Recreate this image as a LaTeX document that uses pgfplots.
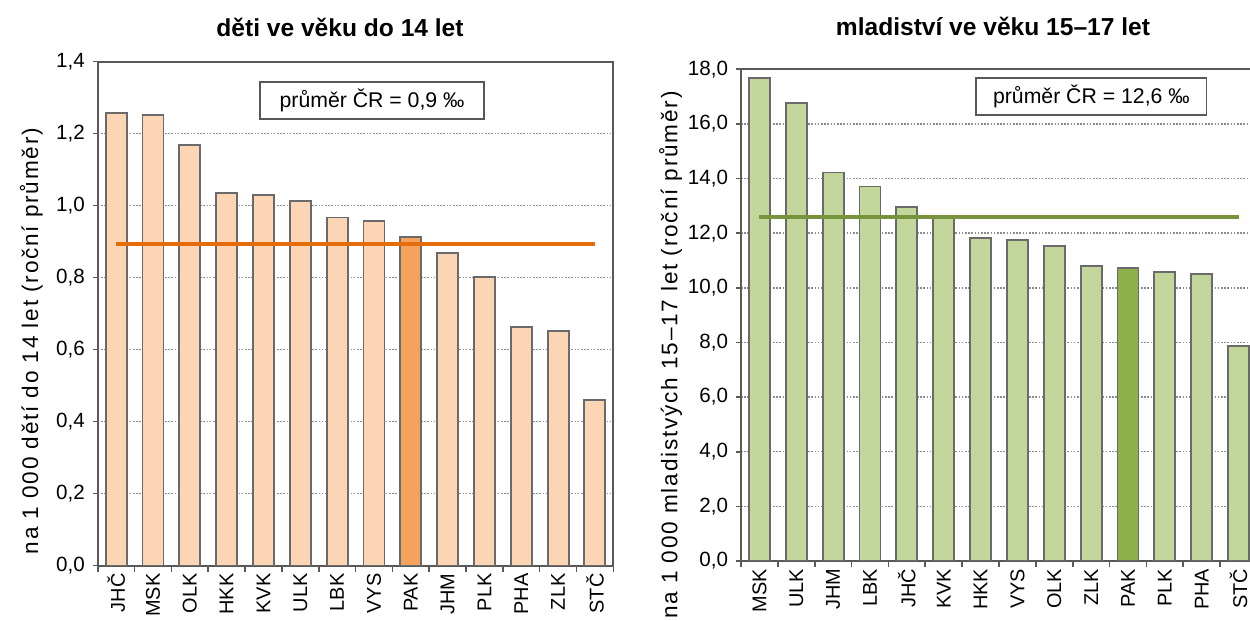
\documentclass[border=0pt]{standalone}
\usepackage{fontspec}
\setmainfont{Liberation Sans}
\newfontfamily\spacedfont[LetterSpace=8]{Liberation Sans}
\usepackage{pgfplots}
\pgfplotsset{compat=1.18}

\definecolor{peach}{HTML}{FCD5B5}
\definecolor{peachdark}{HTML}{F5A35C}
\definecolor{orangeline}{HTML}{E46C0A}
\definecolor{greenlight}{HTML}{C3D69B}
\definecolor{greendark}{HTML}{8DB04B}
\definecolor{greenline}{HTML}{77933C}
\definecolor{axisgray}{HTML}{595959}
\definecolor{bargray}{HTML}{6A6A6A}
\definecolor{gridgray}{HTML}{8C8C8C}

\pgfplotsset{
  common/.style={
    scale only axis,
    ybar, bar shift=0pt, bar width=15.75bp,
    xmin=-0.5, xmax=13.5,
    xtick={0,...,13},
    minor xtick={-0.5,0.5,...,13.5},
    major x tick style={draw=none},
    minor x tick style={draw=axisgray, line width=1.2bp},
    minor tick length=4.5bp,
    major tick length=3.75bp,
    tick align=outside,
    xtick pos=bottom, ytick pos=left,
    ymin=0,
    axis line style={draw=axisgray, line width=1.5bp},
    y tick style={draw=axisgray, line width=1.2bp},
    ymajorgrids,
    grid style={draw=gridgray, line width=1.1bp, dash pattern=on 1.2bp off 1.2bp},
    xticklabel style={rotate=90, anchor=east, font=\fontsize{15}{17}\selectfont, inner sep=2bp},
    yticklabel style={font=\fontsize{15.5}{17}\selectfont, xshift=-2.5bp,
      /pgf/number format/.cd, fixed, fixed zerofill, precision=1, use comma},
    /pgf/number format/assume math mode=true,
    every axis plot/.append style={draw=bargray, line width=1.4bp},
  }
}

\begin{document}
\begin{tikzpicture}

% ---------- left chart ----------
\begin{axis}[common,
  at={(73.3bp,41.5bp)}, anchor=south west,
  width=386.7bp, height=378bp,
  ymax=1.4, ytick={0,0.2,...,1.4},
  xticklabels={JHČ,MSK,OLK,HKK,KVK,ULK,LBK,VYS,PAK,JHM,PLK,PHA,ZLK,STČ},
]
\addplot[fill=peach] coordinates {
  (0,1.258) (1,1.252) (2,1.169) (3,1.035) (4,1.030) (5,1.013) (6,0.967)
  (7,0.957) (9,0.868) (10,0.801) (11,0.662) (12,0.652) (13,0.461)};
\addplot[fill=peachdark] coordinates {(8,0.912)};
\addplot[sharp plot, draw=orangeline, line width=3bp, mark=none] coordinates {(0,0.894) (13,0.894)};
\node[draw=axisgray, line width=1.1bp, fill=white, minimum width=168bp, minimum height=27.75bp,
  inner sep=0pt, font=\fontsize{16}{18}\selectfont] at (rel axis cs:0.532,0.923) {průměr ČR = 0,9 ‰};
\end{axis}

% ---------- right chart ----------
\begin{axis}[common,
  at={(555.75bp,45bp)}, anchor=south west,
  width=387bp, height=368.8bp,
  ymax=18, ytick={0,2,...,18},
  xticklabels={MSK,ULK,JHM,LBK,JHČ,KVK,HKK,VYS,OLK,ZLK,PAK,PLK,PHA,STČ},
]
\addplot[fill=greenlight] coordinates {
  (0,17.67) (1,16.78) (2,14.22) (3,13.71) (4,12.97) (5,12.60) (6,11.83)
  (7,11.76) (8,11.54) (9,10.80) (11,10.59) (12,10.51) (13,7.88)};
\addplot[fill=greendark] coordinates {(10,10.73)};
\addplot[sharp plot, draw=greenline, line width=3bp, mark=none] coordinates {(0,12.58) (13,12.58)};
\node[draw=axisgray, line width=1.1bp, fill=white, minimum width=173bp, minimum height=27.75bp,
  inner sep=0pt, font=\fontsize{16}{18}\selectfont] at (rel axis cs:0.679,0.945) {průměr ČR = 12,6 ‰};
\end{axis}

% titles
\node[font=\bfseries\fontsize{18.5}{21}\selectfont] at (255bp,445.5bp) {děti ve věku do 14 let};
\node[font=\bfseries\fontsize{18.5}{21}\selectfont] at (744.75bp,446.25bp) {mladistv\'{\i} ve věku 15–17 let};

% y labels
\node[rotate=90, font=\spacedfont\fontsize{17}{19}\selectfont] at (23.5bp,210bp) {na 1 000 dětí do 14 let (roční průměr)};
\node[rotate=90, font=\spacedfont\fontsize{17}{19}\selectfont] at (503bp,199.5bp) {na 1 000 mladistvých 15–17 let (roční průměr)};

\pgfresetboundingbox
\useasboundingbox (0,0) rectangle (937.5bp,465.75bp);
\end{tikzpicture}
\end{document}
